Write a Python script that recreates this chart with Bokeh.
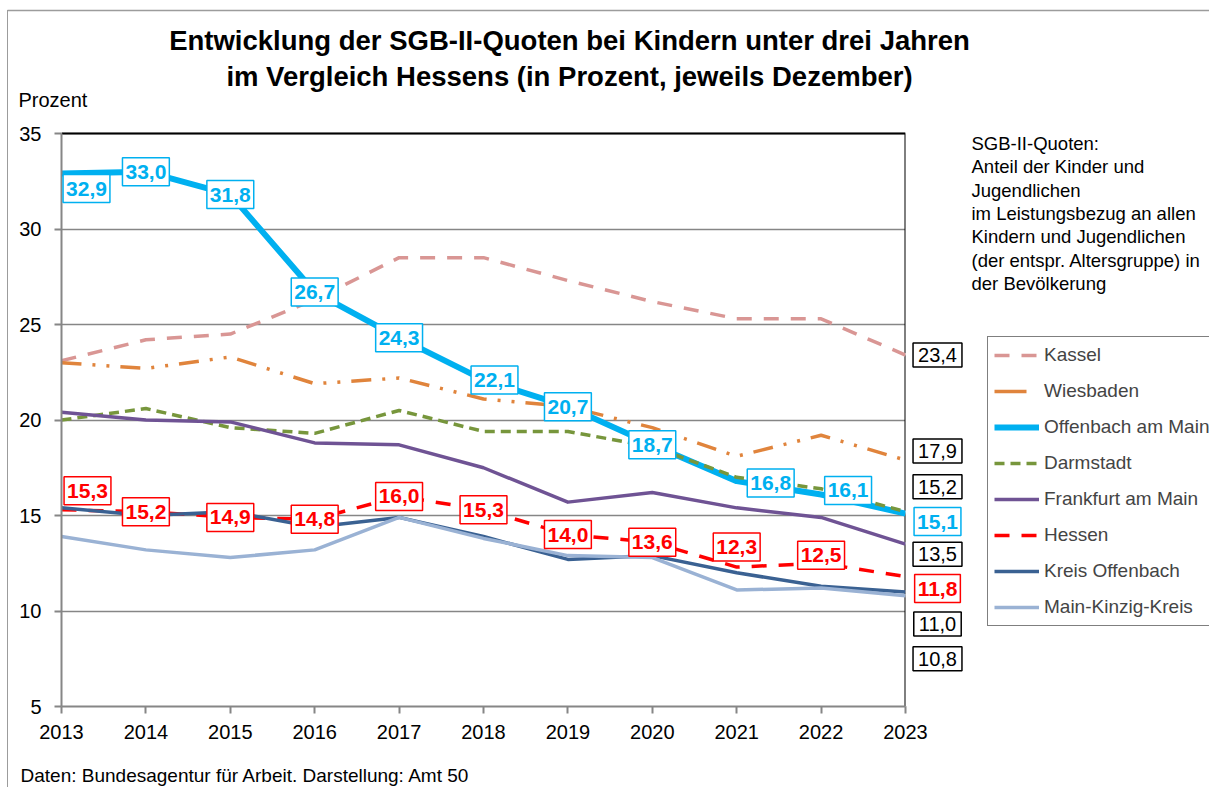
from bokeh.plotting import figure
from bokeh.layouts import column
from bokeh.models import (Label, Legend, LegendItem, BoxAnnotation, FixedTicker, Range1d,
                          InlineStyleSheet)
from bokeh.embed import file_html
from bokeh.resources import INLINE

# ---------------- data ----------------
years = list(range(2013, 2024))
kassel = [23.1, 24.2, 24.5, 26.3, 28.5, 28.5, 27.3, 26.2, 25.3, 25.3, 23.4]
wiesbaden = [23.0, 22.7, 23.3, 21.9, 22.2, 21.1, 20.7, 19.6, 18.1, 19.2, 17.9]
offenbach = [32.9, 33.0, 31.8, 26.7, 24.3, 22.1, 20.7, 18.7, 16.8, 16.1, 15.1]
darmstadt = [20.0, 20.6, 19.6, 19.3, 20.5, 19.4, 19.4, 18.6, 17.0, 16.4, 15.2]
frankfurt = [20.4, 20.0, 19.9, 18.8, 18.7, 17.5, 15.7, 16.2, 15.4, 14.9, 13.5]
hessen = [15.3, 15.2, 14.9, 14.8, 16.0, 15.3, 14.0, 13.6, 12.3, 12.5, 11.8]
kreis_offenbach = [15.4, 15.0, 15.2, 14.4, 14.9, 13.9, 12.7, 12.9, 12.0, 11.3, 11.0]
main_kinzig = [13.9, 13.2, 12.8, 13.2, 14.9, 13.8, 12.9, 12.8, 11.1, 11.2, 10.8]

names = ["Kassel", "Wiesbaden", "Offenbach am Main", "Darmstadt",
         "Frankfurt am Main", "Hessen", "Kreis Offenbach", "Main-Kinzig-Kreis"]
values = [kassel, wiesbaden, offenbach, darmstadt, frankfurt, hessen, kreis_offenbach, main_kinzig]
y_ticks = [5, 10, 15, 20, 25, 30, 35]

title_lines = ["Entwicklung der SGB-II-Quoten bei Kindern unter drei Jahren",
               "im Vergleich Hessens (in Prozent, jeweils Dezember)"]
y_title = "Prozent"
note_lines = ["SGB-II-Quoten:", "Anteil der Kinder und", "Jugendlichen",
              "im Leistungsbezug an allen", "Kindern und Jugendlichen",
              "(der entspr. Altersgruppe) in", "der Bevölkerung"]
source_text = "Daten: Bundesagentur für Arbeit. Darstellung:  Amt 50"

# ---------------- styles / geometry ----------------
FONT = "Liberation Sans"
W = 1209
HEAD_H, MAIN_H, FOOT_H = 112, 640, 35
LEFT = 61             # frame left inside the main figure
BOTTOM = 46           # space below the frame for the x axis
PLOT_W = 844          # pixel width of 2013..2023
PLOT_H = 573          # pixel height of 5..35
px_x = PLOT_W / (years[-1] - years[0])
px_y = PLOT_H / (y_ticks[-1] - y_ticks[0])
frame_w = W - LEFT
frame_h = MAIN_H - BOTTOM
BORDER_GRAY = "#9c9c9c"

styles = {
    "Kassel": dict(color="#D99694", width=3.5, dash="15 12"),
    "Wiesbaden": dict(color="#E0843C", width=3.5, dash="20 11 3 11 3 11"),
    "Offenbach am Main": dict(color="#00B0F0", width=6, dash="solid"),
    "Darmstadt": dict(color="#77963C", width=3.5, dash="10 6"),
    "Frankfurt am Main": dict(color="#6F5394", width=3.5, dash="solid"),
    "Hessen": dict(color="#FF0000", width=3.5, dash="15 12"),
    "Kreis Offenbach": dict(color="#3A6192", width=3.5, dash="solid"),
    "Main-Kinzig-Kreis": dict(color="#9AB2D4", width=3.5, dash="solid"),
}
legend_dash = {"Wiesbaden": "32 100"}


def blank_fig(h):
    f = figure(width=W, height=h, output_backend="svg", toolbar_location=None,
               x_range=Range1d(0, W), y_range=Range1d(h, 0),
               x_axis_type=None, y_axis_type=None, min_border=0)
    f.grid.visible = False
    f.outline_line_color = None
    f.background_fill_color = "white"
    f.border_fill_color = "white"
    f.frame_align = False
    return f


# ---------------- header ----------------
head = blank_fig(HEAD_H)
head.segment(x0=[7], y0=[10], x1=[W], y1=[10], line_color=BORDER_GRAY, line_width=1.5)
for i, t in enumerate(title_lines):
    head.add_layout(Label(x=569, y=40 + 36 * i, text=t, text_align="center",
                          text_baseline="middle", text_font=FONT, text_font_size="27.5px",
                          text_font_style="bold", text_color="black"))
head.add_layout(Label(x=18, y=99, text=y_title, text_align="left", text_baseline="middle",
                      text_font=FONT, text_font_size="20px", text_color="black"))

# ---------------- main plot ----------------
p = figure(width=W, height=MAIN_H, output_backend="svg", toolbar_location=None,
           x_range=Range1d(years[0], years[0] + frame_w / px_x),
           y_range=Range1d(y_ticks[0], y_ticks[0] + frame_h / px_y),
           min_border_left=LEFT, min_border_right=0, min_border_top=0,
           min_border_bottom=BOTTOM)
p.frame_align = False
p.outline_line_color = None
p.background_fill_color = "white"
p.border_fill_color = "white"

GRAY = "#868686"
p.xaxis.ticker = FixedTicker(ticks=years)
p.xaxis.major_label_overrides = {y: str(y) for y in years}
p.xaxis.bounds = (years[0], years[-1])
p.yaxis.ticker = FixedTicker(ticks=y_ticks)
p.yaxis.bounds = (y_ticks[0], y_ticks[-1])
for ax in (p.xaxis[0], p.yaxis[0]):
    ax.axis_line_color = GRAY
    ax.axis_line_width = 2
    ax.major_tick_line_color = GRAY
    ax.major_tick_line_width = 2
    ax.major_tick_in = 0
    ax.major_tick_out = 7
    ax.minor_tick_line_color = None
    ax.major_label_text_font = FONT
    ax.major_label_text_font_size = "20px"
    ax.major_label_text_color = "black"
p.xaxis.major_label_standoff = 11
p.yaxis.major_label_standoff = 13
p.xgrid.grid_line_color = None
p.ygrid.grid_line_color = GRAY
p.ygrid.grid_line_width = 1.5

# white cover right of the plot area (hides grid lines there)
p.add_layout(BoxAnnotation(left=years[-1], fill_color="white", fill_alpha=1,
                           line_color=None, level="glyph"))

# black top and right border of the plot area
p.segment(x0=[years[0], years[-1]], y0=[y_ticks[-1], y_ticks[0]],
          x1=[years[-1], years[-1]], y1=[y_ticks[-1], y_ticks[-1]],
          line_color="black", line_width=2)

items = []
for name, vals in zip(names, values):
    st = styles[name]
    r = p.line(years, vals, line_color=st["color"], line_width=st["width"],
               line_dash=st["dash"], line_join="round", line_cap="butt")
    if name in legend_dash:
        # legend-only sample (a single undefined point, draws nothing in the plot)
        r_leg = p.line(x=[years[0]], y=[float("nan")], line_color=st["color"],
                       line_width=st["width"], line_dash=legend_dash[name], line_cap="butt")
        items.append(LegendItem(label=name, renderers=[r_leg]))
    else:
        items.append(LegendItem(label=name, renderers=[r]))

legend = Legend(items=items, location=(926, 80), orientation="vertical",
                label_text_font=FONT, label_text_font_size="19px",
                glyph_width=45, glyph_height=24, label_height=24, spacing=12,
                label_standoff=5, padding=6, margin=0,
                border_line_color="black", border_line_width=1.5,
                background_fill_color="white", background_fill_alpha=1)
p.add_layout(legend)


def fmt(v):
    return f"{v:.1f}".replace(".", ",")


def box_label(x, y, txt, color, bold, border, dx=0, dy=0):
    p.add_layout(Label(x=x, y=y, x_offset=dx, y_offset=-dy, text=txt,
                       text_align="center", text_baseline="middle",
                       text_font=FONT, text_font_size="21px" if bold else "20px",
                       text_font_style="bold" if bold else "normal",
                       text_color=color, background_fill_color="white",
                       border_line_color=border, border_line_width=1.5,
                       padding=(3, 7) if bold else (5, 5)))


# point labels inside the plot (pixel offsets: dx right, dy down)
off_offsets = {2013: (25, 15), 2018: (11, 0), 2021: (34, 2), 2022: (27, -4)}
hes_offsets = {2013: (26, -19), 2021: (0, -20), 2022: (0, -8)}
for i, yr in enumerate(years[:-1]):
    dx, dy = off_offsets.get(yr, (0, 0))
    box_label(yr, offenbach[i], fmt(offenbach[i]), "#00B0F0", True, "#00B0F0", dx, dy)
    dx, dy = hes_offsets.get(yr, (0, 0))
    box_label(yr, hessen[i], fmt(hessen[i]), "#FF0000", True, "#FF0000", dx, dy)

# end labels right of the plot
end_dy = {"Kassel": 0, "Wiesbaden": -9, "Offenbach am Main": 8, "Darmstadt": -25,
          "Frankfurt am Main": 10, "Hessen": 12, "Kreis Offenbach": 32, "Main-Kinzig-Kreis": 63}
for name, vals in zip(names, values):
    if name == "Offenbach am Main":
        box_label(years[-1], vals[-1], fmt(vals[-1]), "#00B0F0", True, "#00B0F0", 32, end_dy[name])
    elif name == "Hessen":
        box_label(years[-1], vals[-1], fmt(vals[-1]), "#FF0000", True, "#FF0000", 32, end_dy[name])
    else:
        box_label(years[-1], vals[-1], fmt(vals[-1]), "black", False, "black", 32, end_dy[name])

# explanatory note right of the plot
NOTE_DX = 66
for i, t in enumerate(note_lines):
    p.add_layout(Label(x=years[-1], y=y_ticks[-1], x_offset=NOTE_DX, y_offset=-(10 + 23.3 * i),
                       text=t, text_align="left", text_baseline="middle", text_font=FONT,
                       text_font_size="18.5px", text_color="black"))
ul_y = y_ticks[-1] - 20 / px_y
p.segment(x0=[years[-1] + (NOTE_DX - 1) / px_x], y0=[ul_y],
          x1=[years[-1] + (NOTE_DX + 128) / px_x], y1=[ul_y],
          line_color="black", line_width=1.2)

# ---------------- footer ----------------
foot = blank_fig(FOOT_H)
foot.add_layout(Label(x=20, y=23, text=source_text, text_align="left", text_baseline="middle",
                      text_font=FONT, text_font_size="19px", text_color="black"))

frame_css = InlineStyleSheet(css=(
    ":host::after { content: ''; position: absolute; left: 7px; top: 10px;"
    " width: 0; height: 777px; border-left: 1.5px solid " + BORDER_GRAY + ";"
    " pointer-events: none; z-index: 10; }"))
layout = column(head, p, foot, spacing=0, stylesheets=[frame_css])
open("out.html", "w").write(file_html(layout, INLINE))
